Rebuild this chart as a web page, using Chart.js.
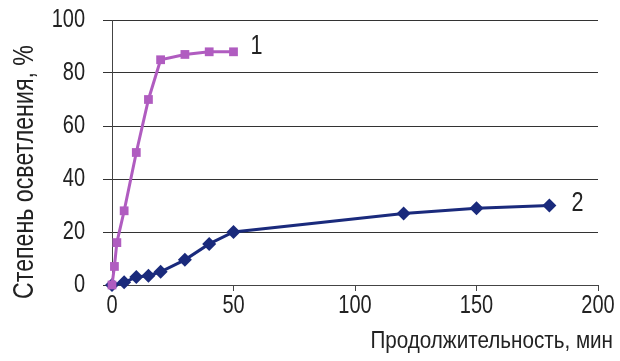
<!DOCTYPE html>
<html>
<head>
<meta charset="utf-8">
<script src="https://cdn.jsdelivr.net/npm/chart.js@4.4.1/dist/chart.umd.min.js"></script>
<style>
  html, body { margin: 0; padding: 0; background: #fff; }
  #wrap { width: 620px; height: 361px; position: relative; }
</style>
</head>
<body>
<div id="wrap"><canvas id="chart"></canvas></div>
<script>
// time, min
const time1 = [0, 1, 2, 5, 10, 15, 20, 30, 40, 50];
const clear1 = [0, 7, 16, 28, 50, 70, 85, 87, 88, 88];

const time2 = [0, 5, 10, 15, 20, 30, 40, 50, 120, 150, 180];
const clear2 = [0, 1, 3, 3.5, 5, 9.5, 15.5, 20, 27, 29, 30];

const seriesNames = ['1', '2'];
const xTitle = 'Продолжительность, мин';
const yTitle = 'Степень осветления, %';

const FONT = '"Liberation Sans", Arial, sans-serif';

function toPoints(xs, ys) {
  return xs.map((x, i) => ({ x: x, y: ys[i] }));
}

// narrow text: the original uses a condensed face, so squeeze horizontally
function narrowText(ctx, text, x, y, size, squeeze, align) {
  ctx.save();
  ctx.translate(x, y);
  ctx.scale(squeeze, 1);
  ctx.font = size + 'px ' + FONT;
  ctx.textAlign = align;
  ctx.textBaseline = 'middle';
  ctx.fillText(text, 0, 0);
  ctx.restore();
}

const labelsPlugin = {
  id: 'labels',
  afterDraw(chart) {
    const ctx = chart.ctx;
    const xs = chart.scales.x, ys = chart.scales.y;
    ctx.save();
    ctx.fillStyle = '#222';

    // tick labels from the scales
    ys.ticks.forEach(t => {
      narrowText(ctx, String(t.value), 85, ys.getPixelForValue(t.value), 25, 0.8, 'right');
    });
    xs.ticks.forEach(t => {
      narrowText(ctx, String(t.value), xs.getPixelForValue(t.value), 306, 25, 0.8, 'center');
    });

    narrowText(ctx, xTitle, 613, 341, 24, 0.86, 'right');

    ctx.save();
    ctx.translate(25, 172);
    ctx.rotate(-Math.PI / 2);
    narrowText(ctx, yTitle, 0, 0, 29, 0.8, 'center');
    ctx.restore();

    chart.data.datasets.forEach((ds, i) => {
      const last = ds.data[ds.data.length - 1];
      const off = i === 0 ? [17, -5] : [22, -2];
      narrowText(ctx, seriesNames[i], xs.getPixelForValue(last.x) + off[0],
        ys.getPixelForValue(last.y) + off[1], 27, 0.8, 'left');
    });
    ctx.restore();
  }
};

new Chart(document.getElementById('chart'), {
  type: 'line',
  data: {
    datasets: [{
      label: '1',
      data: toPoints(time1, clear1),
      borderColor: '#b05cc0',
      backgroundColor: '#b05cc0',
      borderWidth: 3,
      pointStyle: 'rect',
      pointRadius: 6.2,
      pointBorderWidth: 0,
      tension: 0,
      clip: false
    }, {
      label: '2',
      data: toPoints(time2, clear2),
      borderColor: '#1a2a7c',
      backgroundColor: '#1a2a7c',
      borderWidth: 3,
      pointStyle: 'rectRot',
      pointRadius: 7,
      pointBorderWidth: 0,
      tension: 0,
      clip: false
    }]
  },
  options: {
    responsive: true,
    maintainAspectRatio: false,
    animation: false,
    layout: { padding: { top: 20, right: 22, left: 0, bottom: 0 } },
    plugins: { legend: { display: false }, tooltip: { enabled: false } },
    scales: {
      x: {
        type: 'linear',
        min: 0, max: 200,
        afterFit(scale) { scale.height = 76; },
        border: { color: '#444', width: 1 },
        grid: { display: true, drawOnChartArea: false, drawTicks: true, tickLength: 6, color: '#444' },
        ticks: { stepSize: 50, display: false }
      },
      y: {
        min: 0, max: 100,
        afterFit(scale) { scale.width = 112; },
        border: { color: '#444', width: 1 },
        grid: { color: '#333', tickLength: 9, lineWidth: 1 },
        ticks: { stepSize: 20, display: false }
      }
    }
  },
  plugins: [labelsPlugin]
});
</script>
</body>
</html>
